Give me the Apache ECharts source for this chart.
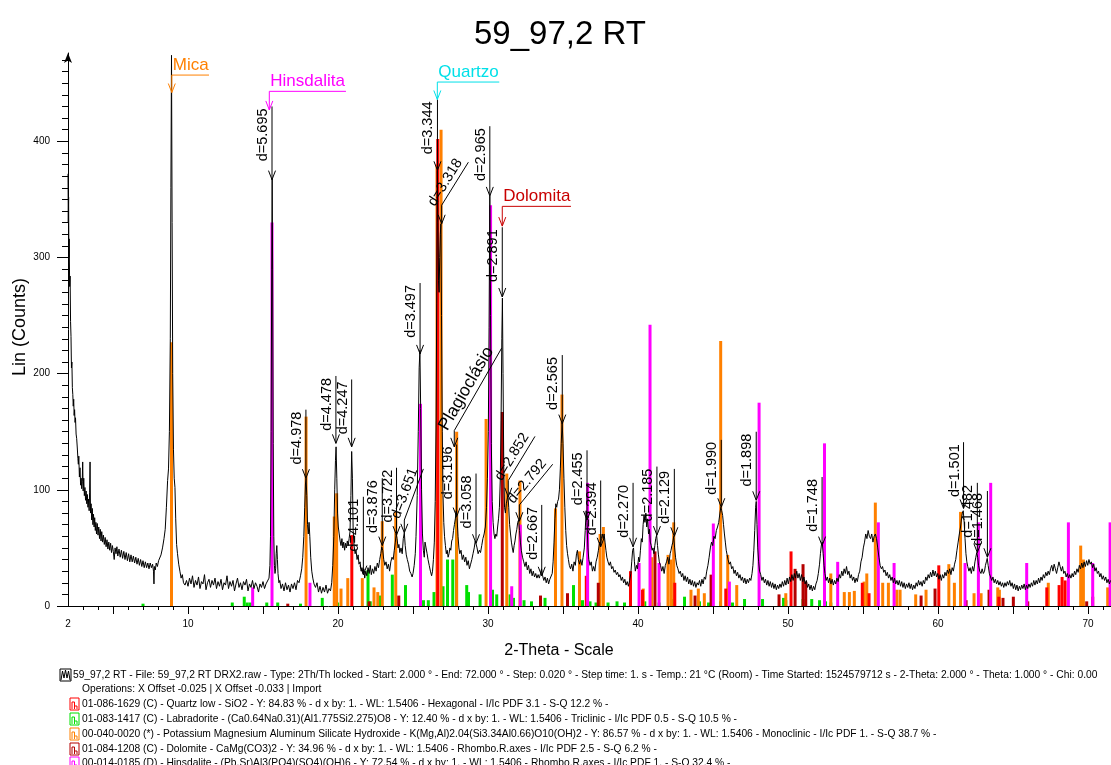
<!DOCTYPE html>
<html><head><meta charset="utf-8">
<script src="https://cdn.jsdelivr.net/npm/echarts@6/dist/echarts.min.js"></script>
<style>html,body{margin:0;padding:0;background:#fff}#c{width:1111px;height:765px}</style>
</head><body><div id="c"></div>
<script>
// ---------- measured scan (2-Theta, Lin counts) ----------
const scanLow = [[2.00,372],[2.02,330],[2.04,352],[2.06,300],[2.08,316],[2.11,275],[2.14,284],[2.17,245],[2.20,232],[2.23,205],[2.26,210],[2.29,188],[2.32,182],[2.35,172],[2.38,178],[2.41,164],[2.44,169],[2.47,158],[2.50,162],[2.54,148],[2.58,144],[2.62,136],[2.66,127],[2.69,122],[2.72,129],[2.76,111],[2.80,119],[2.84,104],[2.88,110],[2.91,101],[2.95,107],[2.98,124],[3.01,99],[3.05,110],[3.09,95],[3.13,102],[3.17,91],[3.21,99],[3.25,88],[3.29,96],[3.33,85],[3.37,92],[3.41,82],[3.44,98],[3.47,124],[3.50,80],[3.54,88],[3.58,74],[3.62,84],[3.66,70],[3.70,79],[3.74,68],[3.78,76],[3.82,65],[3.86,72],[3.90,62],[3.95,71],[4.00,61],[4.05,68],[4.10,58],[4.15,66],[4.20,56],[4.25,64],[4.30,55],[4.36,61],[4.42,53],[4.48,59],[4.54,51],[4.60,57],[4.66,49],[4.72,55],[4.78,48],[4.84,54],[4.90,46],[4.96,52],[5.02,47],[5.08,40],[5.14,50],[5.20,45],[5.26,51],[5.32,43],[5.40,49],[5.48,42],[5.56,48],[5.64,41],[5.72,47],[5.80,40],[5.88,46],[5.96,39],[6.04,45],[6.12,38],[6.20,44],[6.28,38],[6.36,43],[6.44,37],[6.52,42],[6.60,36],[6.68,41],[6.76,35],[6.84,40],[6.92,34],[7.00,39],[7.08,33],[7.16,38],[7.24,33],[7.32,37],[7.40,32],[7.48,37],[7.56,33],[7.64,36],[7.70,30],[7.73,19],[7.76,34],[7.82,31],[7.88,37],[7.96,34],[8.04,39],[8.12,38],[8.20,44],[8.30,50],[8.40,58],[8.48,66],[8.56,85],[8.64,108],[8.70,118],[8.76,150],[8.82,230],[8.86,360],[8.90,474],[8.94,330],[8.98,200],[9.03,135],[9.08,110],[9.13,102],[9.18,75],[9.24,53],[9.30,45],[9.38,36],[9.46,30],[9.54,24],[9.62,27],[9.70,20],[9.80,18]];
const scanMid = [[9.9,22],[10.0,17],[10.1,24],[10.2,19],[10.3,26],[10.4,16],[10.5,22],[10.6,18],[10.7,25],[10.8,15],[10.9,21],[11.0,19],[11.1,27],[11.2,14],[11.3,20],[11.4,23],[11.5,16],[11.6,22],[11.7,18],[11.8,24],[11.9,15],[12.0,21],[12.1,17],[12.2,23],[12.3,14],[12.4,20],[12.5,18],[12.6,26],[12.7,15],[12.8,21],[12.9,17],[13.0,22],[13.1,13],[13.2,19],[13.3,24],[13.4,16],[13.5,20],[13.6,14],[13.7,21],[13.8,18],[13.9,23],[14.0,13],[14.1,19],[14.2,16],[14.3,22],[14.4,15],[14.5,20],[14.6,17],[14.7,12],[14.8,19],[14.9,16],[15.0,21],[15.1,15],[15.2,19],[15.3,18],[15.4,24],[15.46,35],[15.5,60],[15.54,150],[15.58,290],[15.61,368],[15.64,290],[15.68,140],[15.72,60],[15.76,35],[15.8,28],[15.84,32],[15.88,45],[15.92,52],[15.96,40],[16.0,28],[16.06,20],[16.12,22],[16.2,15],[16.3,19],[16.4,13],[16.5,20],[16.6,14],[16.7,18],[16.8,12],[16.9,19],[17.0,15],[17.1,20],[17.2,14],[17.3,22],[17.4,20],[17.5,26],[17.58,32],[17.65,42],[17.72,60],[17.78,85],[17.83,105],[17.87,110],[17.92,95],[17.97,70],[18.02,62],[18.07,72],[18.12,60],[18.18,42],[18.25,30],[18.32,24],[18.4,19],[18.5,16],[18.6,20],[18.7,12],[18.8,17],[18.9,11],[19.0,16],[19.1,12],[19.2,18],[19.3,11],[19.4,15],[19.5,13],[19.58,20],[19.65,35],[19.72,60],[19.78,100],[19.83,125],[19.87,137],[19.92,110],[19.97,80],[20.02,68],[20.08,62],[20.14,56],[20.2,52],[20.26,58],[20.32,50],[20.38,55],[20.44,48],[20.5,54],[20.56,50],[20.62,56],[20.68,52],[20.74,58],[20.8,64],[20.86,95],[20.91,133],[20.96,110],[21.01,65],[21.07,52],[21.14,45],[21.2,48],[21.27,40],[21.34,44],[21.4,36],[21.47,38],[21.54,30],[21.6,33],[21.67,28],[21.72,32],[21.78,24],[21.85,30],[21.92,26],[22.0,33],[22.08,28],[22.15,35],[22.22,27],[22.3,32],[22.38,28],[22.46,34],[22.54,30],[22.62,37],[22.7,33],[22.78,40],[22.85,45],[22.92,51],[22.98,48],[23.05,40],[23.12,35],[23.2,38],[23.28,32],[23.36,36],[23.44,30],[23.52,38],[23.6,42],[23.68,40],[23.75,48],[23.82,55],[23.88,62],[23.94,58],[24.0,50],[24.06,53],[24.12,46],[24.2,50],[24.28,45],[24.35,58],[24.42,63],[24.48,52],[24.55,44],[24.62,40],[24.7,36],[24.78,30],[24.86,28],[24.94,25],[25.0,28],[25.08,35],[25.15,45],[25.2,60],[25.28,95],[25.35,150],[25.41,205],[25.46,220],[25.51,170],[25.57,100],[25.63,62],[25.69,48],[25.75,42],[25.8,55],[25.87,50],[25.94,45],[26.0,40],[26.08,35],[26.16,30],[26.24,26],[26.3,30],[26.36,40],[26.42,55],[26.48,90],[26.54,160],[26.58,260],[26.62,375],[26.66,330],[26.7,280],[26.74,270],[26.78,300],[26.82,320],[26.86,329],[26.9,250],[26.95,150],[27.0,95],[27.05,72],[27.1,60],[27.16,52],[27.22,45],[27.28,48],[27.34,42],[27.4,45],[27.46,50],[27.52,48],[27.58,56],[27.64,58],[27.7,65],[27.76,70],[27.82,75],[27.88,82],[27.94,75],[28.0,60],[28.06,50],[28.12,45],[28.2,48],[28.28,40],[28.36,44],[28.44,38],[28.52,42],[28.6,35],[28.68,39],[28.76,32],[28.84,36],[28.92,40],[29.0,45],[29.08,50],[29.15,56],[29.21,57],[29.27,50],[29.34,45],[29.42,48],[29.5,46],[29.58,52],[29.66,58],[29.74,62],[29.82,68],[29.9,85],[29.96,110],[30.02,150],[30.07,240],[30.12,353],[30.17,250],[30.22,140],[30.28,90],[30.34,72],[30.4,62],[30.46,58],[30.52,62],[30.58,60],[30.64,68],[30.7,75],[30.76,85],[30.82,110],[30.87,160],[30.92,230],[30.96,265],[31.0,200],[31.05,120],[31.1,85],[31.16,80],[31.22,88],[31.28,92],[31.33,95],[31.38,85],[31.44,70],[31.5,62],[31.56,55],[31.62,50],[31.68,46],[31.74,52],[31.8,56],[31.86,62],[31.92,66],[31.98,72],[32.04,74],[32.1,65],[32.16,55],[32.22,48],[32.3,42],[32.38,38],[32.46,34],[32.54,38],[32.62,31],[32.7,35],[32.78,28],[32.86,32],[32.94,26],[33.02,30],[33.1,25],[33.18,28],[33.26,24],[33.34,27],[33.42,24],[33.5,28],[33.57,32],[33.64,26],[33.72,22],[33.8,25],[33.88,20],[33.96,24],[34.04,19],[34.12,23],[34.2,22],[34.28,28],[34.34,38],[34.4,55],[34.46,75],[34.52,88],[34.58,85],[34.64,90],[34.7,92],[34.76,100],[34.82,118],[34.88,140],[34.94,158],[35.0,140],[35.06,110],[35.12,85],[35.18,65],[35.24,52],[35.3,45],[35.36,40],[35.42,35],[35.5,32],[35.58,36],[35.66,30],[35.74,38],[35.82,35],[35.9,45],[35.96,48],[36.02,40],[36.1,36],[36.18,40],[36.26,35],[36.34,42],[36.42,50],[36.48,65],[36.54,82],[36.6,72],[36.66,50],[36.72,40],[36.8,35],[36.88,38],[36.96,30],[37.04,34],[37.12,30],[37.2,38],[37.28,42],[37.36,48],[37.44,55],[37.5,52],[37.56,58],[37.62,62],[37.68,58],[37.74,62],[37.8,55],[37.86,48],[37.92,42],[38.0,38],[38.08,35],[38.16,38],[38.24,32],[38.32,34],[38.4,29],[38.48,31],[38.56,27],[38.64,29],[38.72,25],[38.8,27],[38.88,22],[38.96,25],[39.04,20],[39.12,23],[39.2,18],[39.28,21],[39.36,17],[39.44,22],[39.52,28],[39.58,38],[39.64,48],[39.7,50],[39.76,38],[39.82,30],[39.9,35],[39.96,32],[40.04,42],[40.1,38],[40.16,48],[40.22,58],[40.28,55],[40.34,70],[40.4,78],[40.46,72],[40.52,80],[40.58,68],[40.64,75],[40.7,62],[40.76,66],[40.82,55],[40.88,52],[40.94,48],[41.0,50],[41.06,45],[41.12,52],[41.18,58],[41.24,61],[41.3,52],[41.36,44],[41.42,38],[41.5,35],[41.58,30],[41.66,34],[41.74,28],[41.82,35],[41.9,38],[41.98,42],[42.06,36],[42.14,45],[42.2,48],[42.26,52],[42.32,55],[42.38,60],[42.44,50],[42.5,42],[42.58,35],[42.66,32],[42.74,28],[42.82,30],[42.9,25],[42.98,28],[43.06,22],[43.14,26],[43.22,21],[43.3,25],[43.38,19],[43.46,23],[43.54,18],[43.62,22],[43.7,17],[43.78,21],[43.86,16],[43.94,20],[44.02,18],[44.1,22],[44.18,17],[44.26,23],[44.34,19],[44.42,25],[44.5,23],[44.58,30],[44.66,35],[44.74,42],[44.82,50],[44.9,55],[44.98,52],[45.06,60],[45.14,58],[45.22,65],[45.3,68],[45.38,72],[45.46,80],[45.52,85],[45.58,82],[45.64,78],[45.7,70],[45.76,62],[45.82,55],[45.88,48],[45.94,44],[46.0,40],[46.08,36],[46.16,38],[46.24,32],[46.32,34],[46.4,28],[46.48,31],[46.56,26],[46.64,29],[46.72,24],[46.8,27],[46.88,22],[46.96,25],[47.04,20],[47.12,24],[47.2,19],[47.28,23],[47.36,20],[47.44,24],[47.52,22],[47.6,28],[47.66,35],[47.72,48],[47.78,65],[47.84,85],[47.88,90],[47.93,70],[47.98,50],[48.04,38],[48.1,30],[48.18,27],[48.26,22],[48.34,25],[48.42,20],[48.5,23],[48.58,18],[48.66,22],[48.74,17],[48.82,21],[48.9,16],[48.98,20],[49.06,15],[49.14,19],[49.22,14],[49.3,18],[49.38,15],[49.46,19],[49.54,16],[49.62,21],[49.7,17],[49.78,22],[49.86,18],[49.94,24],[50.02,19],[50.1,25],[50.18,21],[50.26,27],[50.34,22],[50.42,28],[50.5,24],[50.58,30],[50.66,24],[50.74,28],[50.82,22],[50.9,27],[50.98,21],[51.06,25],[51.14,19],[51.22,22],[51.3,16],[51.38,19],[51.46,14],[51.54,18],[51.62,13],[51.7,17],[51.78,14],[51.86,19],[51.94,22],[52.02,28],[52.1,36],[52.16,45],[52.22,52],[52.28,55],[52.34,45],[52.4,35],[52.46,28],[52.54,22],[52.62,25],[52.7,20],[52.78,24],[52.86,19],[52.94,23],[53.02,18],[53.1,22],[53.18,19],[53.26,24],[53.34,21],[53.42,27],[53.5,24],[53.58,30],[53.66,26],[53.74,32],[53.82,28],[53.9,34],[53.98,27],[54.06,30],[54.14,24],[54.22,27],[54.3,22],[54.38,25],[54.46,20],[54.54,24],[54.62,21],[54.7,27],[54.78,30],[54.86,38],[54.94,42],[55.02,50],[55.1,55],[55.18,62],[55.26,58],[55.34,65],[55.42,60],[55.5,58],[55.58,62],[55.66,55],[55.74,60],[55.82,62],[55.9,58],[55.98,50],[56.06,42],[56.14,35],[56.22,32],[56.3,34],[56.38,29],[56.46,31],[56.54,26],[56.62,29],[56.7,24],[56.78,27],[56.86,22],[56.94,25],[57.02,20],[57.1,24],[57.18,19],[57.26,22],[57.34,18],[57.42,22],[57.5,17],[57.58,21],[57.66,16],[57.74,20],[57.82,15],[57.9,19],[57.98,16],[58.06,20],[58.14,15],[58.22,19],[58.3,14],[58.38,18],[58.46,15],[58.54,20],[58.62,17],[58.7,22],[58.78,18],[58.86,21],[58.94,17],[59.02,22],[59.1,19],[59.18,25],[59.26,22],[59.34,27],[59.42,24],[59.5,29],[59.58,25],[59.66,31],[59.74,26],[59.82,30],[59.9,25],[59.98,28],[60.06,23],[60.14,27],[60.22,22],[60.3,27],[60.38,24],[60.46,29],[60.54,26],[60.62,31],[60.7,28],[60.78,32],[60.86,27],[60.94,33],[61.02,30],[61.1,36],[61.18,40],[61.26,48],[61.34,55],[61.42,62],[61.5,68],[61.56,75],[61.62,80],[61.68,82],[61.74,72],[61.8,58],[61.86,45],[61.92,38],[61.98,34],[62.06,30],[62.14,33],[62.22,28],[62.3,34],[62.38,30],[62.46,38],[62.52,42],[62.58,46],[62.64,42],[62.7,35],[62.78,30],[62.86,28],[62.94,32],[63.02,28],[63.1,30],[63.16,35],[63.22,38],[63.28,41],[63.34,35],[63.42,28],[63.5,25],[63.58,22],[63.66,25],[63.74,20],[63.82,23],[63.9,19],[63.98,22],[64.06,18],[64.14,21],[64.22,17],[64.3,20],[64.38,16],[64.46,20],[64.54,17],[64.62,21],[64.7,18],[64.78,22],[64.86,17],[64.94,20],[65.02,15],[65.1,19],[65.18,14],[65.26,18],[65.34,13],[65.42,17],[65.5,14],[65.58,18],[65.66,15],[65.74,19],[65.82,14],[65.9,18],[65.98,15],[66.06,19],[66.14,16],[66.22,20],[66.3,17],[66.38,22],[66.46,18],[66.54,22],[66.62,19],[66.7,24],[66.78,20],[66.86,25],[66.94,22],[67.02,27],[67.1,24],[67.18,29],[67.26,26],[67.34,30],[67.42,27],[67.5,32],[67.58,35],[67.66,30],[67.74,36],[67.82,32],[67.9,28],[67.98,33],[68.06,38],[68.14,34],[68.22,30],[68.3,34],[68.38,28],[68.46,30],[68.54,25],[68.62,28],[68.7,24],[68.78,27],[68.86,24],[68.94,28],[69.02,25],[69.1,30],[69.18,27],[69.26,32],[69.34,29],[69.42,35],[69.5,32],[69.58,37],[69.66,33],[69.74,38],[69.82,34],[69.9,39],[69.98,35],[70.06,40],[70.14,36],[70.22,38],[70.3,33],[70.38,36],[70.46,30],[70.54,33],[70.62,28],[70.7,30],[70.78,25],[70.86,28],[70.94,23],[71.02,26],[71.1,22],[71.18,25],[71.26,20],[71.34,23],[71.42,19],[71.5,22]];

// ---------- reference stick patterns [2-Theta, counts] ----------
const quartz = [[20.92,61],[26.65,402],[36.55,26],[39.5,30],[40.3,14],[42.45,20],[45.85,15],[50.2,47],[54.95,20],[55.4,11],[60.05,35],[64.05,8],[67.25,16],[68.07,18],[68.27,25],[68.47,22]];
const labradorite = [[7.0,2],[12.95,3],[13.75,8],[13.95,3],[14.15,3],[15.25,3],[15.98,3],[17.5,2],[18.95,7],[19.98,3],[22.0,31],[22.15,4],[22.82,9],[23.62,27],[24.5,18],[25.7,5],[26.02,5],[26.4,12],[27.0,17],[27.3,40],[27.65,40],[27.9,80],[28.58,18],[28.7,12],[29.47,10],[30.3,14],[30.58,10],[31.47,10],[31.7,7],[32.4,5],[32.9,4],[33.8,7],[35.7,18],[36.3,5],[36.8,4],[37.2,3],[38.0,3],[38.6,4],[39.1,3],[40.45,4],[41.4,3],[42.3,6],[43.1,8],[44.1,4],[44.7,3],[45.5,4],[46.3,3],[47.1,6],[48.3,6],[49.7,7],[49.85,5],[51.0,6],[51.58,6],[52.1,5],[52.5,4],[52.85,3]];
const mica = [[8.9,227],[17.87,163],[19.75,77],[19.91,97],[20.2,15],[20.65,24],[21.62,24],[22.4,16],[22.65,12],[22.95,73],[23.85,81],[26.6,380],[26.87,410],[27.91,150],[29.87,161],[31.25,114],[32.13,108],[34.5,84],[34.93,182],[36.1,47],[37.47,62],[37.69,68],[40.35,15],[40.91,42],[42.0,44],[42.2,40],[42.38,72],[43.53,14],[44.02,15],[44.42,11],[45.51,228],[45.98,44],[46.58,18],[49.85,11],[52.85,28],[53.75,12],[54.09,12],[54.42,13],[55.07,21],[55.25,28],[55.82,89],[56.31,20],[56.69,20],[57.25,14],[57.47,14],[58.51,10],[59.2,14],[60.72,36],[61.09,20],[61.5,81],[62.4,11],[62.87,11],[63.98,16],[64.09,14],[67.35,20],[69.51,52],[69.69,40],[71.31,16]];
const dolomite = [[16.65,2],[22.07,4],[24.05,9],[30.95,167],[33.5,9],[35.3,11],[37.35,20],[41.13,47],[43.8,9],[44.87,27],[49.4,10],[50.47,32],[51.0,36],[51.18,21],[58.87,9],[59.8,15],[61.87,5],[63.4,14],[64.33,7],[65.02,8],[65.98,4],[69.91,4],[70.31,8]];
const hinsdalite = [[14.31,16],[15.6,330],[18.13,20],[25.5,174],[30.17,345],[31.58,17],[32.15,70],[36.64,106],[40.07,37],[40.8,242],[41.4,37],[45.02,71],[46.09,21],[48.07,175],[52.43,140],[53.31,38],[56.02,72],[57.07,37],[61.8,37],[62.69,72],[63.51,106],[65.91,37],[68.69,72],[70.31,37],[71.47,72]];

// ---------- axis ticks / labels ----------
const xLabels = [2,10,20,30,40,50,60,70];
const xMajorTicks = [5,10,15,20,25,30,35,40,45,50,55,60,65,70];
const xMinorTicks = [3,4,6,7,8,9,11,12,13,14,16,17,18,19,21,22,23,24,26,27,28,29,31,32,33,34,36,37,38,39,41,42,43,44,46,47,48,49,51,52,53,54,56,57,58,59,61,62,63,64,66,67,68,69,71];
const yLabels = [0,100,200,300,400];
const yMinorTicks = [10,20,30,40,50,60,70,80,90,110,120,130,140,150,160,170,180,190,210,220,230,240,250,260,270,280,290,310,320,330,340,350,360,370,380,390,410,420,430,440,450,460,470];

// ---------- peak annotations: [2-Theta, line top, arrow tip, text] ----------
const dLabels = [[15.6,430,367,'d=5.695'],[17.86,169,110,'d=4.978'],[19.86,198,140,'d=4.478'],[20.91,195,137,'d=4.247'],[21.69,94,27,'d=4.101'],[22.95,110,52,'d=3.876'],[23.9,119,61,'d=3.722'],[25.47,278,217,'d=3.497'],[26.63,436,375,'d=3.344'],[27.91,139,77,'d=3.196'],[29.2,114,54,'d=3.058'],[30.12,413,353,'d=2.965'],[30.95,326,266,'d=2.891'],[33.58,87,26,'d=2.667'],[34.95,216,157,'d=2.565'],[36.6,134,74,'d=2.455'],[37.51,108,51,'d=2.394'],[39.67,106,51,'d=2.270'],[41.26,120,61,'d=2.185'],[42.42,118,60,'d=2.129'],[45.55,143,85,'d=1.990'],[47.88,150,91,'d=1.898'],[52.27,111,52,'d=1.748'],[61.7,141,84,'d=1.501'],[62.62,106,46,'d=1.482'],[63.29,99,42,'d=1.468']];
// slanted leaders: [top 2-Theta, top counts, bend 2-Theta, bend counts, tip counts, text]
const slantLabels = [[25.69,118,24.42,74,63,'d=3.651'],[28.69,382,26.91,345,329,'d=3.318'],[30.91,222,27.75,151,137,'Plagioclásio'],[33.13,146,31.35,108,94,'d=2.852'],[34.31,122,32.09,87,73,'d=2.792']];
// phase labels: [name, 2-Theta, bar counts, tip counts, bar end 2-Theta]
const phaseLabels = [['Mica',8.92,457,442,11.4],['Hinsdalita',15.42,443,427,20.53],['Quartzo',26.62,451,436,30.75],['Dolomita',30.95,344,327,35.53]];

const legendTexts = [
 '59_97,2 RT - File: 59_97,2 RT DRX2.raw - Type: 2Th/Th locked - Start: 2.000 ° - End: 72.000 ° - Step: 0.020 ° - Step time: 1. s - Temp.: 21 °C (Room) - Time Started: 1524579712 s - 2-Theta: 2.000 ° - Theta: 1.000 ° - Chi: 0.00',
 'Operations: X Offset -0.025 | X Offset -0.033 | Import',
 '01-086-1629 (C) - Quartz low - SiO2 - Y: 84.83 % - d x by: 1. - WL: 1.5406 - Hexagonal - I/Ic PDF 3.1 - S-Q 12.2 % -',
 '01-083-1417 (C) - Labradorite - (Ca0.64Na0.31)(Al1.775Si2.275)O8 - Y: 12.40 % - d x by: 1. - WL: 1.5406 - Triclinic - I/Ic PDF 0.5 - S-Q 10.5 % -',
 '00-040-0020 (*) - Potassium Magnesium Aluminum Silicate Hydroxide - K(Mg,Al)2.04(Si3.34Al0.66)O10(OH)2 - Y: 86.57 % - d x by: 1. - WL: 1.5406 - Monoclinic - I/Ic PDF 1. - S-Q 38.7 % -',
 '01-084-1208 (C) - Dolomite - CaMg(CO3)2 - Y: 34.96 % - d x by: 1. - WL: 1.5406 - Rhombo.R.axes - I/Ic PDF 2.5 - S-Q 6.2 % -',
 '00-014-0185 (D) - Hinsdalite - (Pb,Sr)Al3(PO4)(SO4)(OH)6 - Y: 72.54 % - d x by: 1. - WL: 1.5406 - Rhombo.R.axes - I/Ic PDF 1. - S-Q 32.4 % -'
];

// ---------- styles ----------
const FONT = '"Liberation Sans", Arial, Helvetica, sans-serif';
const phaseColor = {Mica:'#ff8000', Hinsdalita:'#ff00ff', Quartzo:'#00e0e8', Dolomita:'#c80000'};
const stickColor = {quartz:'#ff0000', labradorite:'#00e000', mica:'#ff8000', dolomite:'#b40000', hinsdalite:'#ff00ff'};
const legendIconColor = [null, null, '#ff0000', '#00e000', '#ff8000', '#b40000', '#ff00ff'];
const legendY = [675, 689, 704, 719, 734, 749, 763];

const chart = echarts.init(document.getElementById('c'), null, {renderer:'canvas'});

function stickSeries(name, data, color){
  return {type:'custom', name, data, z:2, silent:true, clip:true, encode:{x:0, y:1},
    renderItem(params, api){
      const b = api.coord([api.value(0), 0]);
      const t = api.coord([api.value(0), api.value(1)]);
      return {type:'rect', shape:{x:b[0]-1.5, y:t[1], width:3, height:b[1]-t[1]}, style:{fill:color}};
    }};
}
function arrowHead(p, color){
  return {type:'polyline', shape:{points:[[p[0]-3.5,p[1]-9],[p[0],p[1]],[p[0]+3.5,p[1]-9]]}, style:{stroke:color, fill:null, lineWidth:1}};
}

const dSeries = {type:'custom', z:5, silent:true, clip:false, encode:{x:0, y:[1,2]},
  data: dLabels.map(d=>[d[0], d[1], d[2]]),
  renderItem(params, api){
    const it = dLabels[params.dataIndex];
    const top = api.coord([it[0], it[1]]), tip = api.coord([it[0], it[2]]);
    return {type:'group', children:[
      {type:'line', shape:{x1:top[0], y1:top[1], x2:tip[0], y2:tip[1]}, style:{stroke:'#000', lineWidth:1}},
      arrowHead(tip, '#000'),
      {type:'text', x:top[0]-1.5, y:top[1]+2, rotation:Math.PI/2,
        style:{text:it[3], fill:'#000', font:'14.5px '+FONT, align:'right', verticalAlign:'bottom'}}
    ]};
  }};

const slantSeries = {type:'custom', z:5, silent:true, clip:false, encode:{x:[0,2], y:[1,3,4]},
  data: slantLabels.map(d=>[d[0], d[1], d[2], d[3], d[4]]),
  renderItem(params, api){
    const it = slantLabels[params.dataIndex];
    const t = api.coord([it[0], it[1]]), b = api.coord([it[2], it[3]]), p = api.coord([it[2], it[4]]);
    const ang = Math.atan2(b[1]-t[1], t[0]-b[0]);
    const big = it[5] === 'Plagioclásio';
    const back = big ? 6 : 3;
    const off = 1.5;
    const ax = t[0] - back*Math.cos(ang) - off*Math.sin(ang);
    const ay = t[1] + back*Math.sin(ang) - off*Math.cos(ang);
    return {type:'group', children:[
      {type:'polyline', shape:{points:[t, b, p]}, style:{stroke:'#000', fill:null, lineWidth:1}},
      arrowHead(p, '#000'),
      {type:'text', x:ax, y:ay, rotation:ang,
        style:{text:it[5], fill:'#000', font:(big?'17.5px ':'14.5px ')+FONT, align:'right', verticalAlign:'bottom'}}
    ]};
  }};

const phaseSeries = {type:'custom', z:5, silent:true, clip:false, encode:{x:[0,3], y:[1,2]},
  data: phaseLabels.map(d=>[d[1], d[2], d[3], d[4]]),
  renderItem(params, api){
    const it = phaseLabels[params.dataIndex];
    const col = phaseColor[it[0]];
    const a = api.coord([it[1], it[2]]), e = api.coord([it[4], it[2]]), tip = api.coord([it[1], it[3]]);
    return {type:'group', children:[
      {type:'line', shape:{x1:a[0], y1:a[1], x2:e[0], y2:e[1]}, style:{stroke:col, lineWidth:1}},
      {type:'line', shape:{x1:a[0], y1:a[1], x2:tip[0], y2:tip[1]}, style:{stroke:col, lineWidth:1}},
      arrowHead(tip, col),
      {type:'text', x:a[0]+1, y:a[1]-1.5, style:{text:it[0], fill:col, font:'17px '+FONT, align:'left', verticalAlign:'bottom'}}
    ]};
  }};

// legend block (graphic)
const graphics = [];
legendTexts.forEach((txt, i) => {
  const y = legendY[i];
  const tx = i === 0 ? 73 : 82;
  graphics.push({type:'text', x:tx, y:y, scaleX:0.933, style:{text:txt, fill:'#000', font:'11px '+FONT, textAlign:'left', textVerticalAlign:'middle'}});
  if (i === 0) {
    graphics.push({type:'rect', shape:{x:60, y:y-6, width:11, height:12}, style:{stroke:'#000', fill:'#fff', lineWidth:1}});
    graphics.push({type:'polyline', shape:{points:[[61,y+5],[62.5,y-4],[64,y+3],[65.5,y-5],[67,y+3],[68.5,y-4],[70,y+5]]}, style:{stroke:'#000', fill:null, lineWidth:1}});
  } else if (legendIconColor[i]) {
    const c = legendIconColor[i];
    graphics.push({type:'rect', shape:{x:70, y:y-6, width:9, height:12}, style:{stroke:c, fill:'#fff', lineWidth:1}});
    graphics.push({type:'polyline', shape:{points:[[72,y+5],[72,y-2],[74.5,y-2],[74.5,y+5]]}, style:{stroke:c, fill:null, lineWidth:1}});
    graphics.push({type:'polyline', shape:{points:[[74.5,y+2],[77,y+2],[77,y+5]]}, style:{stroke:c, fill:null, lineWidth:1}});
  }
});
graphics.push({type:'text', x:20, y:327, rotation:Math.PI/2, style:{text:'Lin (Counts)', fill:'#000', font:'18px '+FONT, textAlign:'center', textVerticalAlign:'middle'}});
graphics.push({type:'text', x:559, y:651, style:{text:'2-Theta - Scale', fill:'#000', font:'16px '+FONT, textAlign:'center', textVerticalAlign:'middle'}});

const axisBlack = {color:'#000', width:1};
chart.setOption({
  animation:false,
  backgroundColor:'#fff',
  title:{text:'59_97,2 RT', left:469, top:13, textStyle:{fontSize:33, fontWeight:'normal', color:'#000', fontFamily:FONT}},
  grid:{left:68, right:0, top:53, bottom:159, containLabel:false},
  xAxis:[
    {type:'value', min:2, max:71.53, position:'bottom',
      axisLine:{onZero:false, lineStyle:axisBlack},
      axisTick:{length:8, customValues:xMajorTicks, lineStyle:axisBlack},
      axisLabel:{customValues:xLabels, fontSize:10, color:'#000', margin:13, fontFamily:FONT},
      splitLine:{show:false}},
    {type:'value', min:2, max:71.53, position:'bottom',
      axisLine:{show:false}, axisTick:{length:4, customValues:xMinorTicks, lineStyle:axisBlack},
      axisLabel:{show:false}, splitLine:{show:false}}
  ],
  yAxis:[
    {type:'value', min:0, max:476, position:'left',
      axisLine:{show:true, onZero:false, lineStyle:axisBlack, symbol:['none','arrow'], symbolSize:[6,10], symbolOffset:[0,0]},
      axisTick:{show:true, length:11, customValues:yLabels, lineStyle:axisBlack},
      axisLabel:{customValues:yLabels, fontSize:10, color:'#000', margin:18, fontFamily:FONT},
      splitLine:{show:false}},
    {type:'value', min:0, max:476, position:'left',
      axisLine:{show:false}, axisTick:{show:true, length:6, customValues:yMinorTicks, lineStyle:axisBlack},
      axisLabel:{show:false}, splitLine:{show:false}}
  ],
  graphic: graphics,
  series:[
    stickSeries('Labradorite', labradorite, stickColor.labradorite),
    stickSeries('Mica', mica, stickColor.mica),
    stickSeries('Quartz', quartz, stickColor.quartz),
    stickSeries('Dolomite', dolomite, stickColor.dolomite),
    stickSeries('Hinsdalite', hinsdalite, stickColor.hinsdalite),
    {type:'line', name:'59_97,2 RT', data:scanLow.concat(scanMid), showSymbol:false, symbol:'none', z:3, silent:true,
      lineStyle:{color:'#000', width:1}, sampling:null},
    dSeries, slantSeries, phaseSeries
  ]
});
</script>
</body></html>
